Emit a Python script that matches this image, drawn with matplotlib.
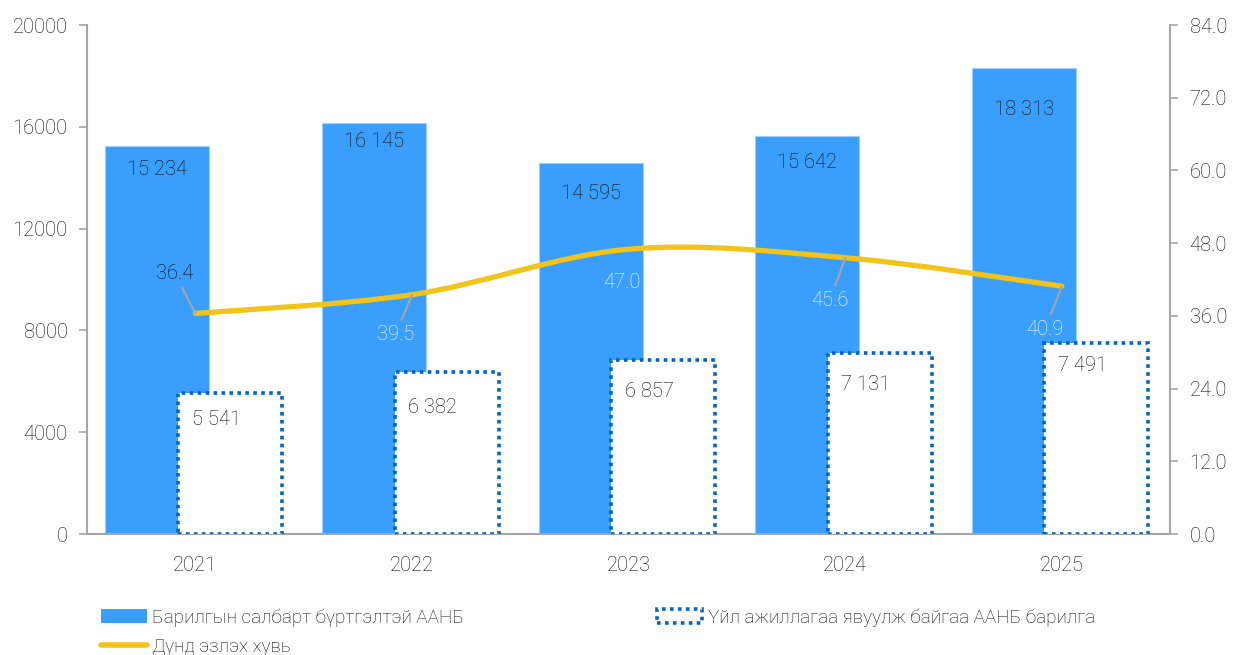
import matplotlib
matplotlib.use("Agg")
import matplotlib.pyplot as plt
import matplotlib.ticker as ticker
from matplotlib.patches import Patch, PathPatch
from matplotlib.lines import Line2D
from matplotlib.path import Path
import numpy as np

plt.rcParams["font.family"] = ["Roboto", "DejaVu Sans"]
plt.rcParams["font.weight"] = "light"

# --- Data ---
years = ["2021", "2022", "2023", "2024", "2025"]
registered = [15234, 16145, 14595, 15642, 18313]
operating = [5541, 6382, 6857, 7131, 7491]
share = [36.4, 39.5, 47.0, 45.6, 40.9]

label_registered = "Барилгын салбарт бүртгэлтэй ААНБ"
label_operating = "Үйл ажиллагаа явуулж байгаа ААНБ барилга"
label_share = "Дүнд эзлэх хувь"

BLUE = "#3A9EFD"
DOT_BLUE = "#0563C1"
YELLOW = "#F2C318"
AXIS_GRAY = "#A6A6A6"
TEXT = "#0a0a0a"

# data-label placement (points below the bar top), as in the original layout
reg_drop = [17, 13, 22, 19, 30]
op_drop = [19, 26, 23, 23, 16]
share_offsets = [(-15, 29), (-12, -29), (-5, -24), (-11, -31), (-12, -31)]
share_colors = ["#0a0a0a", "white", "white", "white", "white"]
share_leader = [True, True, False, True, True]


def fmt_thousands(v):
    return f"{v:,}".replace(",", " ")


fig = plt.figure(figsize=(12.33, 6.55), dpi=100)
ax = fig.add_axes([0.0706, 0.1847, 0.8784, 0.7771])
ax2 = ax.twinx()

x = np.arange(len(years))
width = 0.48
off_reg, off_op = -0.175, 0.16

ax.bar(x + off_reg, registered, width, color=BLUE, edgecolor="#9fd0ff",
       linewidth=0.8, zorder=2)
ax.bar(x + off_op, operating, width, facecolor="white", edgecolor=DOT_BLUE,
       linewidth=2.6, linestyle=(0, (1, 1.2)), zorder=3)

for xi, v, d in zip(x, registered, reg_drop):
    ax.annotate(fmt_thousands(v), xy=(xi + off_reg, v), xytext=(0, -d),
                textcoords="offset points", ha="center", va="center",
                fontsize=14.5, color=TEXT, zorder=5)
for xi, v, d in zip(x, operating, op_drop):
    ax.annotate(fmt_thousands(v), xy=(xi + off_op, v), xytext=(-10, -d),
                textcoords="offset points", ha="center", va="center",
                fontsize=14.5, color=TEXT, zorder=5)

ax.set_xlim(-0.5, len(years) - 0.5)
ax.set_ylim(0, 20000)
ax.yaxis.set_major_locator(ticker.MultipleLocator(4000))
ax.set_xticks(x)
ax.set_xticklabels(years)
ax.tick_params(axis="x", length=0, pad=16, labelsize=14.5, labelcolor=TEXT)
ax.tick_params(axis="y", length=6, width=1.2, color=AXIS_GRAY, pad=8,
               labelsize=14.5, labelcolor=TEXT)

# --- Share line (smoothed like the original) ---
ax2.set_ylim(0, 84)
ax2.yaxis.set_major_locator(ticker.MultipleLocator(12))
ax2.yaxis.set_major_formatter(ticker.FormatStrFormatter("%.1f"))
ax2.tick_params(axis="y", length=6, width=1.2, color=AXIS_GRAY, pad=8,
                labelsize=14.5, labelcolor=TEXT)

pts = np.column_stack([x, share]).astype(float)
verts = [pts[0]]
codes = [Path.MOVETO]
n = len(pts)
for i in range(n - 1):
    p0 = pts[max(i - 1, 0)]
    p1 = pts[i]
    p2 = pts[i + 1]
    p3 = pts[min(i + 2, n - 1)]
    c1 = p1 + (p2 - p0) / 6.0
    c2 = p2 - (p3 - p1) / 6.0
    verts += [c1, c2, p2]
    codes += [Path.CURVE4] * 3
ax2.add_patch(PathPatch(Path(verts, codes), facecolor="none", edgecolor=YELLOW,
                        linewidth=3.8, capstyle="round", zorder=4))

for xi, v, off, col, lead in zip(x, share, share_offsets, share_colors,
                                 share_leader):
    arrow = dict(arrowstyle="-", color=AXIS_GRAY, lw=1.5, shrinkA=2,
                 shrinkB=0) if lead else None
    ax2.annotate(f"{v:.1f}", xy=(xi, v), xytext=off, textcoords="offset points",
                 ha="center", va="center", fontsize=14.5, color=col, zorder=6,
                 arrowprops=arrow)

for a in (ax, ax2):
    a.spines["top"].set_visible(False)
    for s in ("left", "right", "bottom"):
        a.spines[s].set_color(AXIS_GRAY)
        a.spines[s].set_linewidth(1.5)
ax.spines["right"].set_visible(False)
ax2.spines["left"].set_visible(False)
ax2.spines["bottom"].set_visible(False)

# --- Legend ---
handles = [
    Patch(facecolor=BLUE, edgecolor="none"),
    Line2D([0], [0], color=YELLOW, linewidth=4, solid_capstyle="round"),
    Patch(facecolor="white", edgecolor=DOT_BLUE, linewidth=2.6,
          linestyle=(0, (1, 1.2))),
]
labels = [label_registered, label_share, label_operating]
fig.legend(handles, labels, loc="upper left", ncol=2,
           bbox_to_anchor=(0.076, 0.083), frameon=False, fontsize=13.6,
           handlelength=2.4, handleheight=0.75, handletextpad=0.3,
           columnspacing=10.2, labelspacing=0.58, borderaxespad=0,
           labelcolor=TEXT)

fig.savefig("out.png", dpi=100)
